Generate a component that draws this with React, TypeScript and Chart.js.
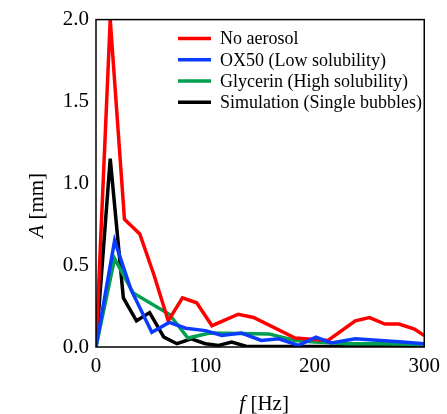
import React, { useEffect, useRef } from "react";
import { Chart, registerables } from "chart.js";

Chart.register(...registerables);

// ---- data ----
const noAerosolF = [0, 13, 26, 40, 53, 66, 79, 92, 106, 130, 144, 182, 212, 237, 250, 264, 277, 291, 300];
const noAerosolA = [0, 2.0, 0.78, 0.69, 0.44, 0.16, 0.3, 0.27, 0.13, 0.2, 0.18, 0.055, 0.04, 0.16, 0.18, 0.14, 0.14, 0.11, 0.07];

const ox50F = [0, 17, 32, 51, 67, 82, 100, 115, 133, 151, 167, 185, 201, 215, 237, 260, 280, 300];
const ox50A = [0, 0.65, 0.35, 0.09, 0.15, 0.115, 0.1, 0.07, 0.085, 0.04, 0.05, 0.01, 0.06, 0.025, 0.05, 0.04, 0.03, 0.02];

const glycerinF = [0, 17, 34, 67, 84, 104, 158, 182, 200, 230, 260, 300];
const glycerinA = [0, 0.54, 0.33, 0.2, 0.055, 0.085, 0.08, 0.04, 0.03, 0.02, 0.02, 0.015];

const simF = [0, 13, 25, 37, 49, 62, 74, 87, 100, 112, 124, 137, 150, 200, 250, 300];
const simA = [0, 1.15, 0.3, 0.16, 0.21, 0.06, 0.02, 0.05, 0.02, 0.01, 0.03, 0.005, 0.003, 0.003, 0.003, 0.003];

const seriesLabels = [
  "No aerosol",
  "OX50 (Low solubility)",
  "Glycerin (High solubility)",
  "Simulation (Single bubbles)",
];
const xTicks = [0, 100, 200, 300];
const yTicks = [0, 0.5, 1.0, 1.5, 2.0];

const FONT = '"Liberation Serif", "Times New Roman", serif';

const toPts = (fs: number[], as: number[]) => fs.map((f, i) => ({ x: f, y: as[i] }));

const framePlugin = {
  id: "frameAndTitles",
  afterDatasetsDraw(chart: any) {
    const { ctx, chartArea } = chart;
    ctx.save();
    ctx.strokeStyle = "#000";
    ctx.lineWidth = 1.5;
    ctx.strokeRect(chartArea.left, chartArea.top, chartArea.right - chartArea.left, chartArea.bottom - chartArea.top);
    ctx.restore();
  },
  afterDraw(chart: any) {
    const { ctx, chartArea } = chart;
    ctx.save();
    ctx.fillStyle = "#000";
    ctx.textBaseline = "middle";
    // x title: italic f + [Hz]
    const italic = `italic 21px ${FONT}`;
    const normal = `21px ${FONT}`;
    ctx.font = italic;
    const wf = ctx.measureText("f").width;
    ctx.font = normal;
    const wr = ctx.measureText(" [Hz]").width;
    const cx = (chartArea.left + chartArea.right) / 2 + 4;
    const ty = chartArea.bottom + 57;
    const x0 = cx - (wf + wr) / 2;
    ctx.font = italic;
    ctx.textAlign = "left";
    ctx.fillText("f", x0, ty);
    ctx.font = normal;
    ctx.fillText(" [Hz]", x0 + wf, ty);

    // y title: italic A + [mm], rotated
    ctx.save();
    ctx.translate(chartArea.left - 59, (chartArea.top + chartArea.bottom) / 2 + 22);
    ctx.rotate(-Math.PI / 2);
    ctx.font = italic;
    const wa = ctx.measureText("A").width;
    ctx.font = normal;
    const wm = ctx.measureText(" [mm]").width;
    const y0 = -(wa + wm) / 2;
    ctx.font = italic;
    ctx.fillText("A", y0, 0);
    ctx.font = normal;
    ctx.fillText(" [mm]", y0 + wa, 0);
    ctx.restore();

    // legend
    ctx.font = `18px ${FONT}`;
    ctx.textAlign = "left";
    chart.data.datasets.forEach((ds: any, i: number) => {
      const ly = chartArea.top + 19 + i * 21.2;
      const lx = chartArea.left + 82;
      ctx.strokeStyle = ds.borderColor;
      ctx.lineWidth = 3.5;
      ctx.beginPath();
      ctx.moveTo(lx, ly);
      ctx.lineTo(lx + 33, ly);
      ctx.stroke();
      ctx.fillStyle = "#000";
      ctx.fillText(ds.label, lx + 42, ly + 1);
    });
    ctx.restore();
  },
};

export default function App() {
  const canvasRef = useRef<HTMLCanvasElement | null>(null);

  useEffect(() => {
    document.body.style.margin = "0";
    const canvas = canvasRef.current;
    if (!canvas) return;
    const colors = ["#ff0000", "#0a3cff", "#00a050", "#000000"];
    const series = [
      toPts(noAerosolF, noAerosolA),
      toPts(ox50F, ox50A),
      toPts(glycerinF, glycerinA),
      toPts(simF, simA),
    ];
    const orders = [1, 0, 2, 3];
    const chart = new Chart(canvas, {
      type: "line",
      data: {
        datasets: series.map((d, i) => ({
          label: seriesLabels[i],
          data: d,
          borderColor: colors[i],
          backgroundColor: colors[i],
          borderWidth: 3.5,
          pointRadius: 0,
          tension: 0,
          fill: false,
          order: orders[i],
          borderJoinStyle: "miter" as const,
        })),
      },
      options: {
        animation: false,
        responsive: true,
        maintainAspectRatio: false,
        layout: { padding: { left: 0, right: 20, top: 17, bottom: 0 } },
        plugins: { legend: { display: false }, tooltip: { enabled: false } },
        scales: {
          x: {
            type: "linear",
            min: 0,
            max: 300,
            afterBuildTicks: (s: any) => {
              s.ticks = xTicks.map((v) => ({ value: v }));
            },
            afterFit: (s: any) => {
              s.height = 67;
            },
            grid: { display: false, drawTicks: false },
            border: { display: false },
            ticks: {
              color: "#000",
              font: { family: FONT, size: 21 },
              padding: 7,
              maxRotation: 0,
              callback: (v: any) => String(v),
            },
          },
          y: {
            type: "linear",
            min: 0,
            max: 2,
            afterBuildTicks: (s: any) => {
              s.ticks = yTicks.map((v) => ({ value: v }));
            },
            afterFit: (s: any) => {
              s.width = 96;
            },
            grid: { display: false, drawTicks: false },
            border: { display: false },
            ticks: {
              color: "#000",
              font: { family: FONT, size: 21 },
              padding: 7,
              callback: (v: any) => Number(v).toFixed(1),
            },
          },
        },
      },
      plugins: [framePlugin],
    });
    return () => chart.destroy();
  }, []);

  return (
    <div style={{ position: "relative", width: 447, height: 414 }}>
      <canvas ref={canvasRef} />
    </div>
  );
}
